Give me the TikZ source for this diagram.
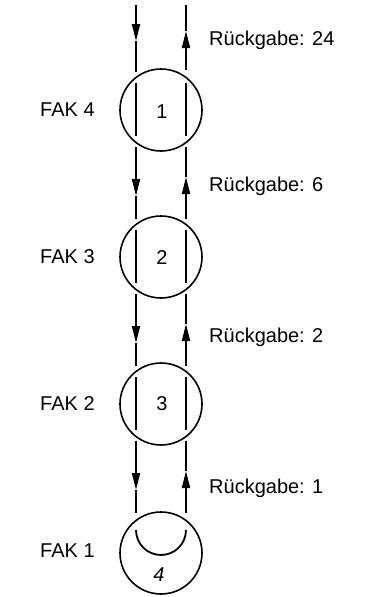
\documentclass[tikz,border=0pt]{standalone}
\usepackage{fontspec}
\setmainfont{Liberation Sans}
\usetikzlibrary{arrows.meta}
\begin{document}
\begin{tikzpicture}[x=1pt,y=-1pt,
  ring/.style={draw,circle,line width=1.6pt,minimum size=82pt,inner sep=0pt},
  wire/.style={line width=1.8pt},
  tip/.style={wire,-{Triangle[length=17pt,width=8pt]}},
  lbl/.style={font=\fontsize{20}{24}\selectfont,anchor=west,inner sep=0pt},
  num/.style={font=\fontsize{20}{24}\selectfont,inner sep=0pt}]
\useasboundingbox (0,0) rectangle (366,597);
\fill[white] (0,0) rectangle (366,597);
% circles
\node[ring] (c1) at (161,110) {};
\node[ring] (c2) at (161,257) {};
\node[ring] (c3) at (161,404) {};
\node[ring] (c4) at (161,553) {};
\node[num] (n1) at (162,112) {1};
\node[num] (n2) at (162,258) {2};
\node[num] (n3) at (162,404) {3};
\node[num,font=\fontsize{20}{24}\selectfont\itshape] (n4) at (159,575) {4};
% labels
\node[lbl] (f4) at (40,110) {FAK 4};
\node[lbl] (f3) at (40,257) {FAK 3};
\node[lbl] (f2) at (40,404) {FAK 2};
\node[lbl] (f1) at (40,551) {FAK 1};
\node[lbl] (r4) at (209,40) {Rückgabe: 24};
\node[lbl] (r3) at (209,186) {Rückgabe: 6};
\node[lbl] (r2) at (209,337) {Rückgabe: 2};
\node[lbl] (r1) at (209,488) {Rückgabe: 1};
% coordinates: top segment
\coordinate (lt0) at (136,5);   \coordinate (rt0) at (186,5);
\coordinate (la0) at (136,41);  \coordinate (ra0) at (186,31);
\coordinate (lb0) at (136,72);  \coordinate (rb0) at (186,70);
% segments between circles
\foreach \k/\y in {1/110,2/257,3/404}{
  \coordinate (lt\k) at (136,\y+37);
  \coordinate (rt\k) at (186,\y+37);
  \coordinate (la\k) at (136,\y+86);
  \coordinate (ra\k) at (186,\y+67);
  \coordinate (lb\k) at (136,\y+109);
  \coordinate (rb\k) at (186,\y+109);
  % inner bars
  \coordinate (li\k) at (136,\y-27); \coordinate (lj\k) at (136,\y+26);
  \coordinate (ri\k) at (186,\y-27); \coordinate (rj\k) at (186,\y+26);
}
\foreach \k in {0,1,2,3}{
  \draw[tip] (lt\k) -- (la\k);
  \draw[wire] (la\k) -- (lb\k);
  \draw[tip] (rb\k) -- (ra\k);
  \draw[wire] (ra\k) -- (rt\k);
}
\foreach \k in {1,2,3}{
  \draw[wire] (li\k) -- (lj\k);
  \draw[wire] (ri\k) -- (rj\k);
}
% bottom turning arc
\coordinate (al) at (136,530);
\coordinate (ar) at (186,530);
\draw[wire] (al) arc[start angle=180,end angle=0,radius=25];
\end{tikzpicture}
\end{document}
